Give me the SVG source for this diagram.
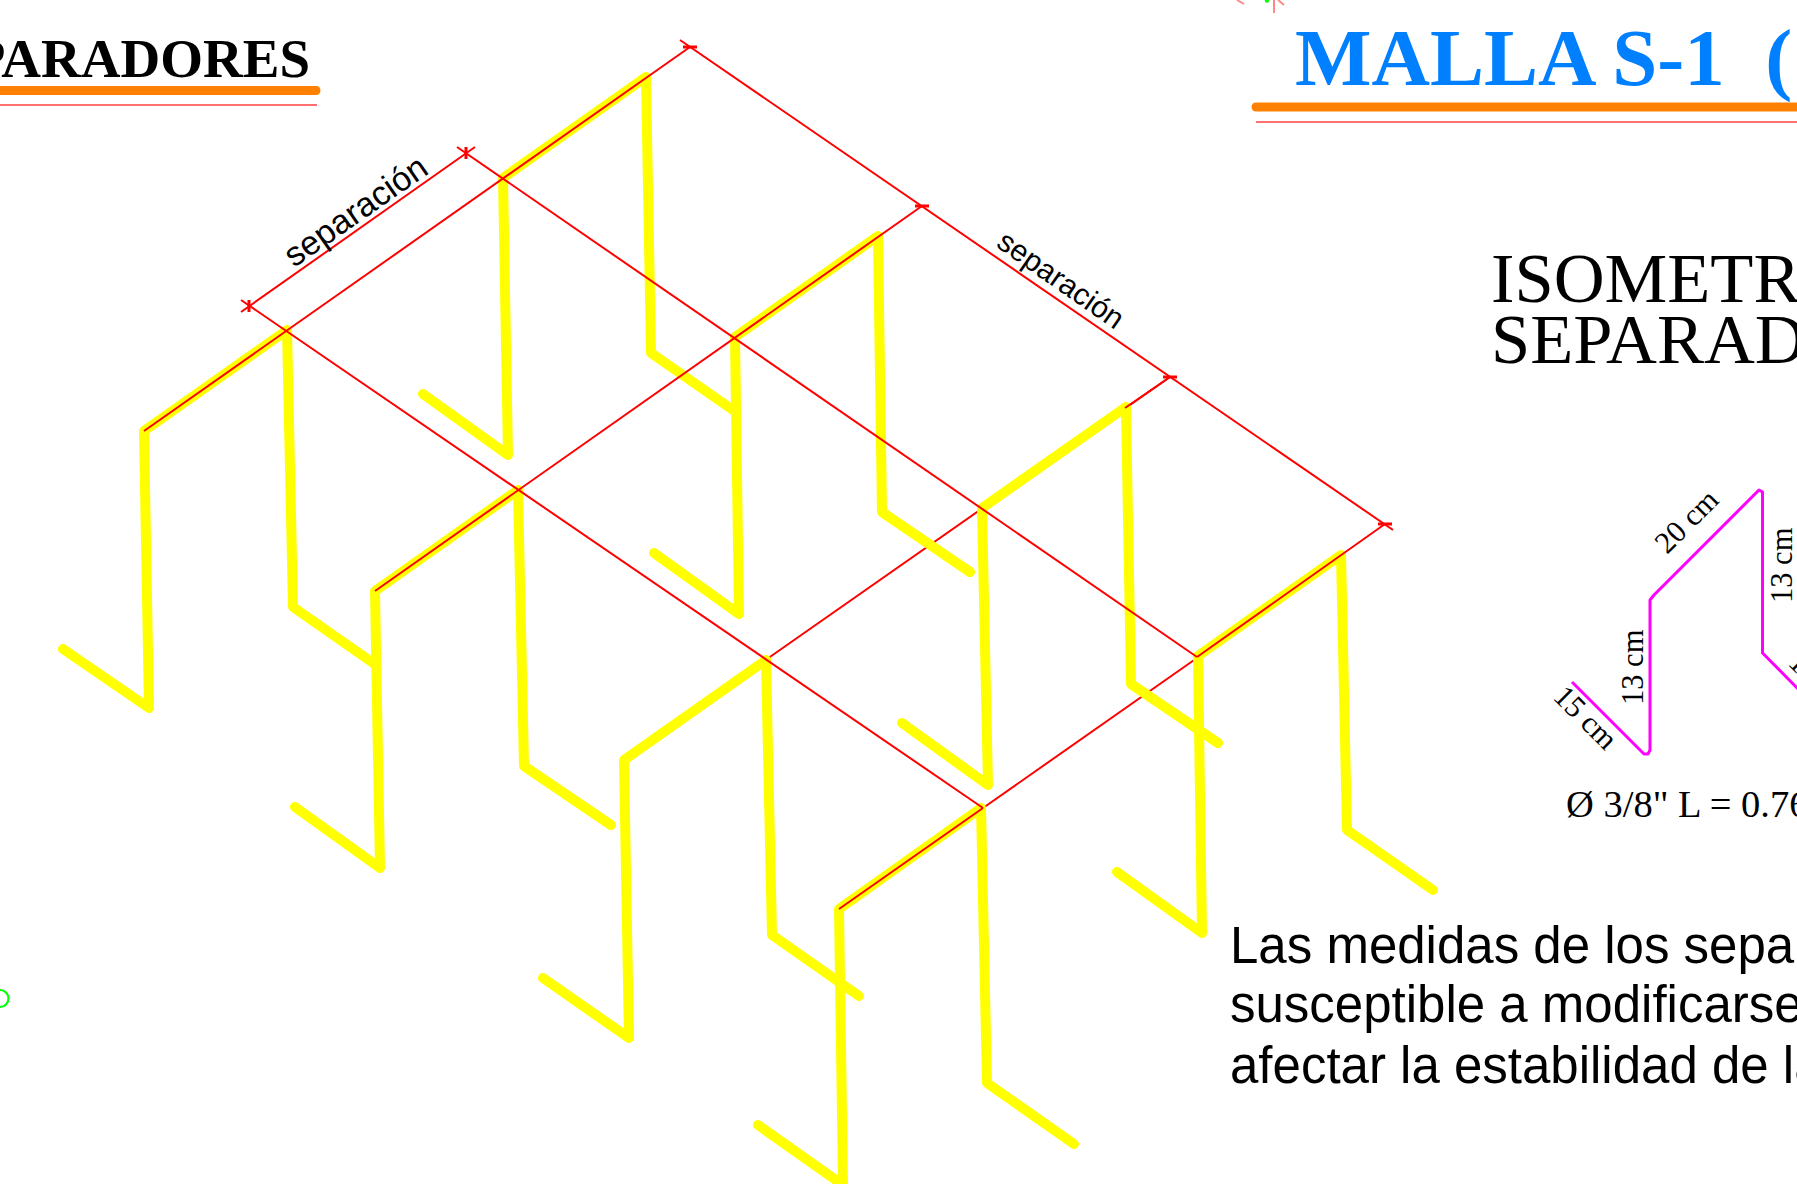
<svg xmlns="http://www.w3.org/2000/svg" width="1797" height="1184" viewBox="0 0 1797 1184">
<style>
.bar{fill:none;stroke:#ffff00;stroke-width:10;stroke-linejoin:round;stroke-linecap:round}
.dim{fill:none;stroke:#ff0000;stroke-width:2}
.tick{fill:none;stroke:#ff0000;stroke-width:3}
.mark{fill:none;stroke:#ff8888;stroke-width:2}
.rule{fill:none;stroke:#ff8000;stroke-width:9;stroke-linecap:round}
.thin{fill:none;stroke:#ff4040;stroke-width:1.5}
.sans{font-family:"Liberation Sans",Arial,sans-serif;fill:#000}
.serif{font-family:"Liberation Serif","Times New Roman",serif;fill:#000}
.cm{font-size:30.5px}
</style>
<rect width="1797" height="1184" fill="#fff"/>
<g id="connectors-under">
<path class="dim" d="M767 659L1170 377M983 808L1341 557"/>
</g>
<g id="separador-a"><path class="bar" d="M63 649L149 708L144 431L287 330L293 607L376 665"/></g>
<g id="separador-b"><path class="bar" d="M423 394L508 455L503 178L646 77L651 353L733 410"/></g>
<g id="separador-c"><path class="bar" d="M295 807L380 868L375 591L518 490L524 766L611 825"/></g>
<g id="separador-d"><path class="bar" d="M654 553L739 614L735 337L878 236L882 512L970 572"/></g>
<g id="separador-e"><path class="bar" d="M543 978L629 1038L624 760L766 660L772 935L859 996"/></g>
<g id="separador-f"><path class="bar" d="M902 723L988 785L982 508L1126 407L1131 684L1218 743"/></g>
<g id="separador-g"><path class="bar" d="M758 1125L843 1185L839 909L981 808L987 1083L1074 1144"/></g>
<g id="separador-h"><path class="bar" d="M1117 872L1202 933L1198 656L1341 555L1347 830L1433 890"/></g>
<g id="connectors">
<path class="dim" d="M241 312L475 147"/>
<path class="dim" d="M241 300L983 808"/>
<path class="dim" d="M457 147L1197 657"/>
<path class="dim" d="M680 40L1393 530"/>
<path class="dim" d="M144 431L690 47"/>
<path class="dim" d="M375 591L922 206"/>
<path class="dim" d="M839 909L983 808M1197 657L1385 524"/>
<path class="dim" d="M1170 377L1125 408"/>
<path class="tick" d="M249 300V312M466 147V159M683 47H697M915 206H929M1163 377H1177M1378 524H1392"/>
</g>
<g id="header-left">
<text class="serif" x="310" y="77" text-anchor="end" font-size="55" font-weight="700">PARADORES</text>
<path class="rule" d="M-10 90.5H316"/>
<path class="thin" d="M0 105H317"/>
</g>
<g id="header-right">
<text class="serif" x="1295" y="85" font-size="81" font-weight="700" style="fill:#0080ff" xml:space="preserve">MALLA S-1  (</text>
<path class="rule" d="M1256 107H1810"/>
<path class="thin" d="M1256 122H1797"/>
</g>
<g id="marks">
<path class="mark" d="M1237 0L1244 4M1274 0V13M1278 0L1284 5"/>
<circle cx="1267" cy="0.5" r="2.2" fill="#00ff00"/>
<circle cx="0" cy="998.5" r="8.5" fill="none" stroke="#00ff00" stroke-width="2.2"/>
</g>
<g id="label-separacion-1"><text class="sans" font-size="34" transform="translate(294 268) rotate(-35)">separación</text></g>
<g id="label-separacion-2"><text class="sans" font-size="30" transform="translate(995 246) rotate(35)">separación</text></g>
<g id="titulo">
<text class="serif" x="1491" y="302" font-size="70.5">ISOMETR</text>
<text class="serif" x="1491" y="363" font-size="70.5">SEPARAD</text>
</g>
<g id="detalle">
<path d="M1572 682L1644 754L1648 754L1650 750V600L1654 595L1759 490L1762.5 492V653L1800 691" fill="none" stroke="#ff00ff" stroke-width="3" stroke-linejoin="round"/>
<text class="serif cm" transform="translate(1552 698) rotate(45)">15 cm</text>
<text class="serif cm" transform="translate(1643 705) rotate(-90)">13 cm</text>
<text class="serif cm" transform="translate(1667 555) rotate(-45)">20 cm</text>
<text class="serif cm" transform="translate(1792 603) rotate(-90)">13 cm</text>
<text class="serif cm" transform="translate(1787 664) rotate(45)">15 cm</text>
<text class="serif" x="1566" y="817" font-size="38.5">Ø 3/8" L = 0.76</text>
</g>
<g id="nota">
<text class="sans" x="1230" y="963" font-size="51">Las medidas de los sepa</text>
<text class="sans" x="1230" y="1022" font-size="51">susceptible a modificarse</text>
<text class="sans" x="1230" y="1083" font-size="51">afectar la estabilidad de la</text>
</g>
</svg>
